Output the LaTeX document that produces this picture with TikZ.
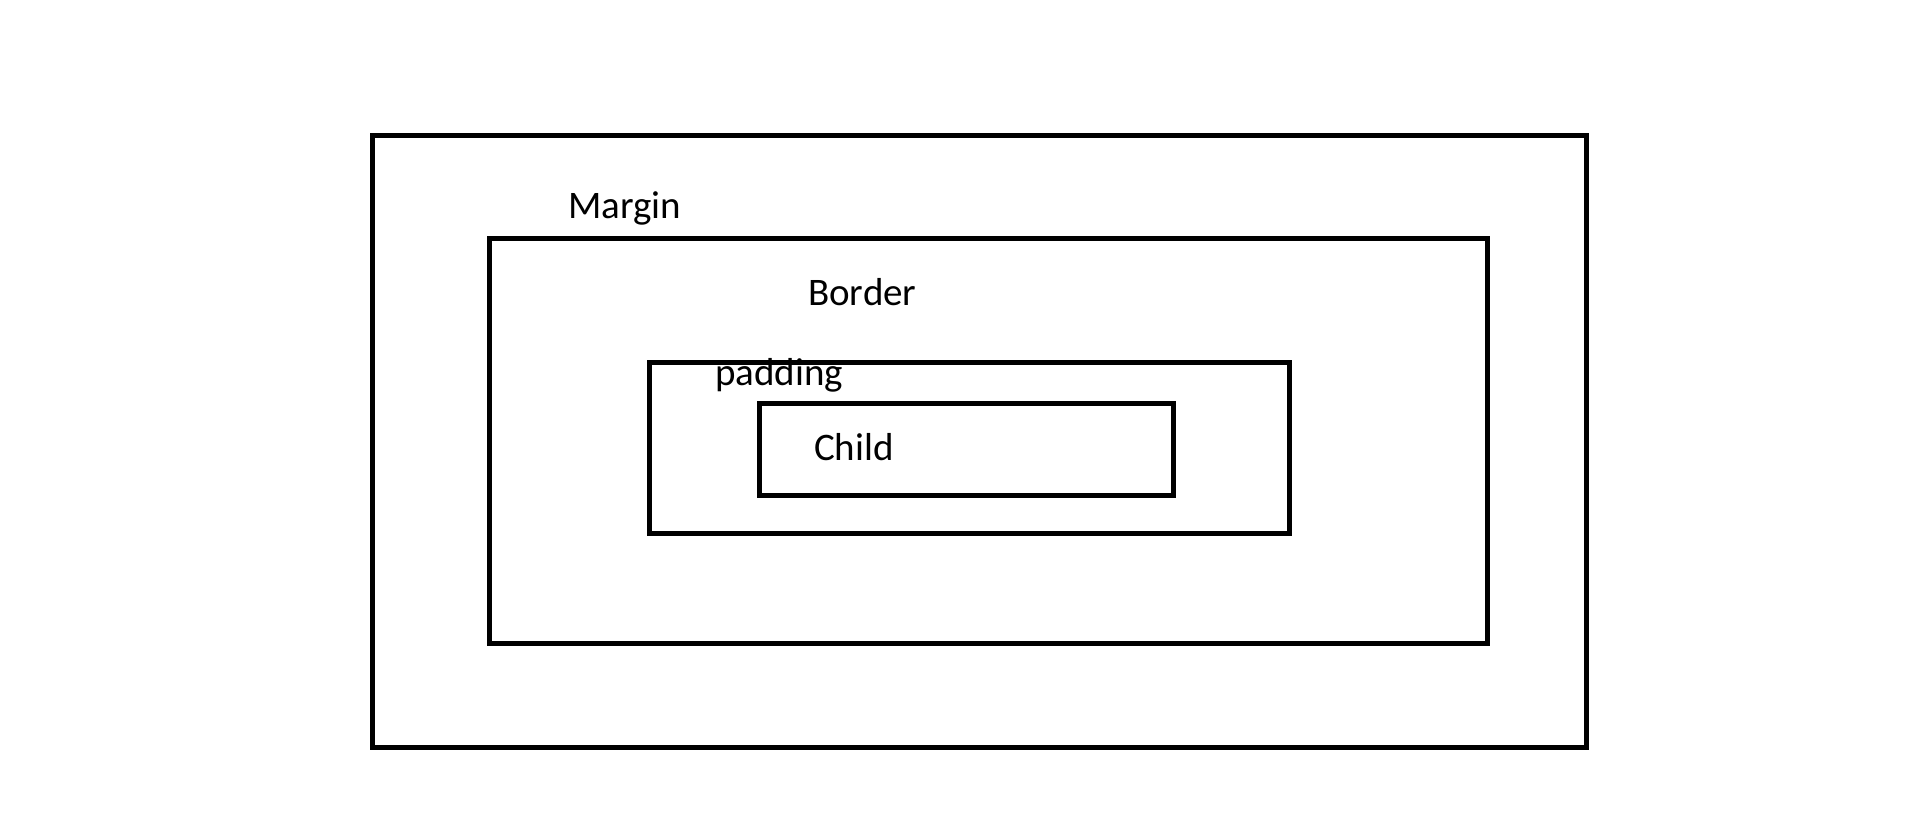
\documentclass[tikz,border=0pt]{standalone}
\usepackage{fontspec}
\setmainfont{Carlito}
\begin{document}
\begin{tikzpicture}[x=1pt,y=-1pt,
  box/.style={draw=black, line width=5pt, rectangle, inner sep=0pt, outer sep=0pt},
  lbl/.style={anchor=base west, inner sep=0pt, font=\fontsize{39}{47}\selectfont}]
\useasboundingbox (0,0) rectangle (1913,819);
\node[box, minimum width=1214pt, minimum height=612pt] (outer) at (979,441) {};
\node[box, minimum width=998pt, minimum height=405pt] (border) at (988,440.5) {};
\node[box, minimum width=640pt, minimum height=171pt] (padding) at (969,447.5) {};
\node[box, minimum width=414pt, minimum height=92pt] (child) at (966,449) {};
\node[lbl] (tmargin) at (568,218) {Margin};
\node[lbl] (tborder) at (808,305) {Border};
\node[lbl] (tpadding) at (715,385) {padding};
\node[lbl] (tchild) at (814,460) {Child};
\end{tikzpicture}
\end{document}
